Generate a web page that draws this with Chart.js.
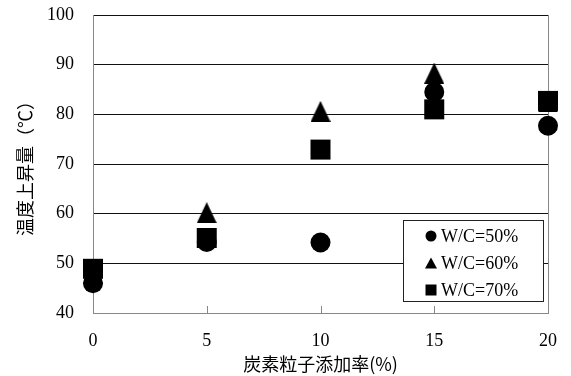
<!DOCTYPE html>
<html>
<head>
<meta charset="utf-8">
<script src="https://cdn.jsdelivr.net/npm/chart.js@4/dist/chart.umd.min.js"></script>
<style>
  html, body { margin: 0; padding: 0; background: #fff; }
  #wrap { width: 571px; height: 376px; }
</style>
</head>
<body>
<div id="wrap"><canvas id="c" width="571" height="376"></canvas></div>
<script>
// Carbon particle addition rate (%)
const additionRates = [0, 5, 10, 15, 20];
// Temperature rise (°C) per water/cement ratio
const wc50 = [46.0, 54.3, 54.2, 84.5, 77.7];
const wc60 = [48.0, 60.2, 80.6, 88.3, 82.5];
const wc70 = [48.9, 55.1, 72.9, 81.0, 82.7];
const seriesLabels = ['W/C=50%', 'W/C=60%', 'W/C=70%'];
const xTicks = [0, 5, 10, 15, 20];
const yTicks = [40, 50, 60, 70, 80, 90, 100];

function toPoints(ys) { return additionRates.map((x, i) => ({ x: x, y: ys[i] })); }

function triangleCanvas(w, h) {
  const cv = document.createElement('canvas');
  cv.width = w; cv.height = h;
  const g = cv.getContext('2d');
  g.fillStyle = '#000';
  g.beginPath();
  g.moveTo(0, h); g.lineTo(w / 2, 0); g.lineTo(w, h); g.closePath();
  g.fill();
  return cv;
}
const triMarker = triangleCanvas(20, 21);

// short inward tick marks on the bottom axis
const innerTicks = {
  id: 'innerTicks',
  beforeDatasetsDraw(chart) {
    const { ctx, chartArea, scales } = chart;
    ctx.save();
    ctx.strokeStyle = '#888';
    ctx.lineWidth = 1;
    xTicks.slice(1, -1).forEach(v => {
      const px = Math.round(scales.x.getPixelForValue(v)) + 0.5;
      ctx.beginPath();
      ctx.moveTo(px, chartArea.bottom);
      ctx.lineTo(px, chartArea.bottom - 7);
      ctx.stroke();
    });
    ctx.restore();
  }
};

// boxed legend inside the plot area
const boxLegend = {
  id: 'boxLegend',
  afterDraw(chart) {
    const { ctx } = chart;
    const x0 = 403.5, y0 = 220.5, w = 140, h = 81;
    ctx.save();
    ctx.fillStyle = '#fff';
    ctx.fillRect(x0, y0, w, h);
    ctx.strokeStyle = '#222';
    ctx.lineWidth = 1;
    ctx.strokeRect(x0, y0, w, h);
    ctx.font = '18px "Liberation Serif", "Times New Roman", serif';
    ctx.textBaseline = 'middle';
    ctx.fillStyle = '#000';
    const rows = [236, 263, 290];
    const mx = 431;
    rows.forEach((ry, i) => {
      ctx.beginPath();
      if (i === 0) {
        ctx.arc(mx, ry, 5.5, 0, Math.PI * 2);
      } else if (i === 1) {
        ctx.moveTo(mx - 6, ry + 5.5); ctx.lineTo(mx, ry - 5.5); ctx.lineTo(mx + 6, ry + 5.5); ctx.closePath();
      } else {
        ctx.rect(mx - 5.5, ry - 5.5, 11, 11);
      }
      ctx.fill();
      ctx.fillText(seriesLabels[i], 441, ry + 1);
    });
    ctx.restore();
  }
};

new Chart(document.getElementById('c'), {
  type: 'scatter',
  data: {
    datasets: [
      { label: seriesLabels[0], data: toPoints(wc50), pointStyle: 'circle', pointRadius: 10, pointHoverRadius: 10,
        backgroundColor: '#000', borderColor: '#000', borderWidth: 0, clip: false },
      { label: seriesLabels[1], data: toPoints(wc60), pointStyle: triMarker, pointRadius: 10, pointHoverRadius: 10,
        backgroundColor: '#000', borderColor: '#000', borderWidth: 0, clip: false },
      { label: seriesLabels[2], data: toPoints(wc70), pointStyle: 'rect', pointRadius: 14.14, pointHoverRadius: 14.14,
        backgroundColor: '#000', borderColor: '#000', borderWidth: 0, clip: false }
    ]
  },
  options: {
    responsive: false,
    animation: false,
    events: [],
    layout: { autoPadding: false, padding: { left: 0, right: 23, top: 15, bottom: 0 } },
    plugins: { legend: { display: false }, tooltip: { enabled: false } },
    scales: {
      x: {
        type: 'linear', min: 0, max: 20,
        afterBuildTicks: s => { s.ticks = xTicks.map(v => ({ value: v })); },
        afterFit: s => { s.height = 63; s.paddingLeft = 0; s.paddingRight = 0; },
        ticks: { padding: 17, color: '#000', font: { family: '"Liberation Serif", serif', size: 18 } },
        grid: { drawTicks: false, lineWidth: 1,
          color: c => (c.tick && c.tick.value === 20) ? '#888' : 'rgba(0,0,0,0)' },
        border: { color: '#888', width: 1 },
        title: { display: true, text: '炭素粒子添加率(%)', color: '#000',
          font: { family: '"Noto Sans CJK JP", sans-serif', size: 18 }, padding: { top: 0, bottom: 1 } }
      },
      y: {
        type: 'linear', min: 40, max: 100,
        afterBuildTicks: s => { s.ticks = yTicks.map(v => ({ value: v })); },
        afterFit: s => { s.width = 93; s.paddingTop = 0; s.paddingBottom = 0; },
        ticks: { padding: 19, color: '#000', font: { family: '"Liberation Serif", serif', size: 18 } },
        grid: { drawTicks: false, lineWidth: 1,
          color: c => (c.tick && c.tick.value === 40) ? 'rgba(0,0,0,0)' : '#111' },
        border: { color: '#888', width: 1 },
        title: { display: true, text: '温度上昇量（℃）', color: '#000',
          font: { family: '"Noto Sans CJK JP", sans-serif', size: 18 }, padding: { top: 14, bottom: 0 } }
      }
    }
  },
  plugins: [innerTicks, boxLegend]
});
</script>
</body>
</html>
